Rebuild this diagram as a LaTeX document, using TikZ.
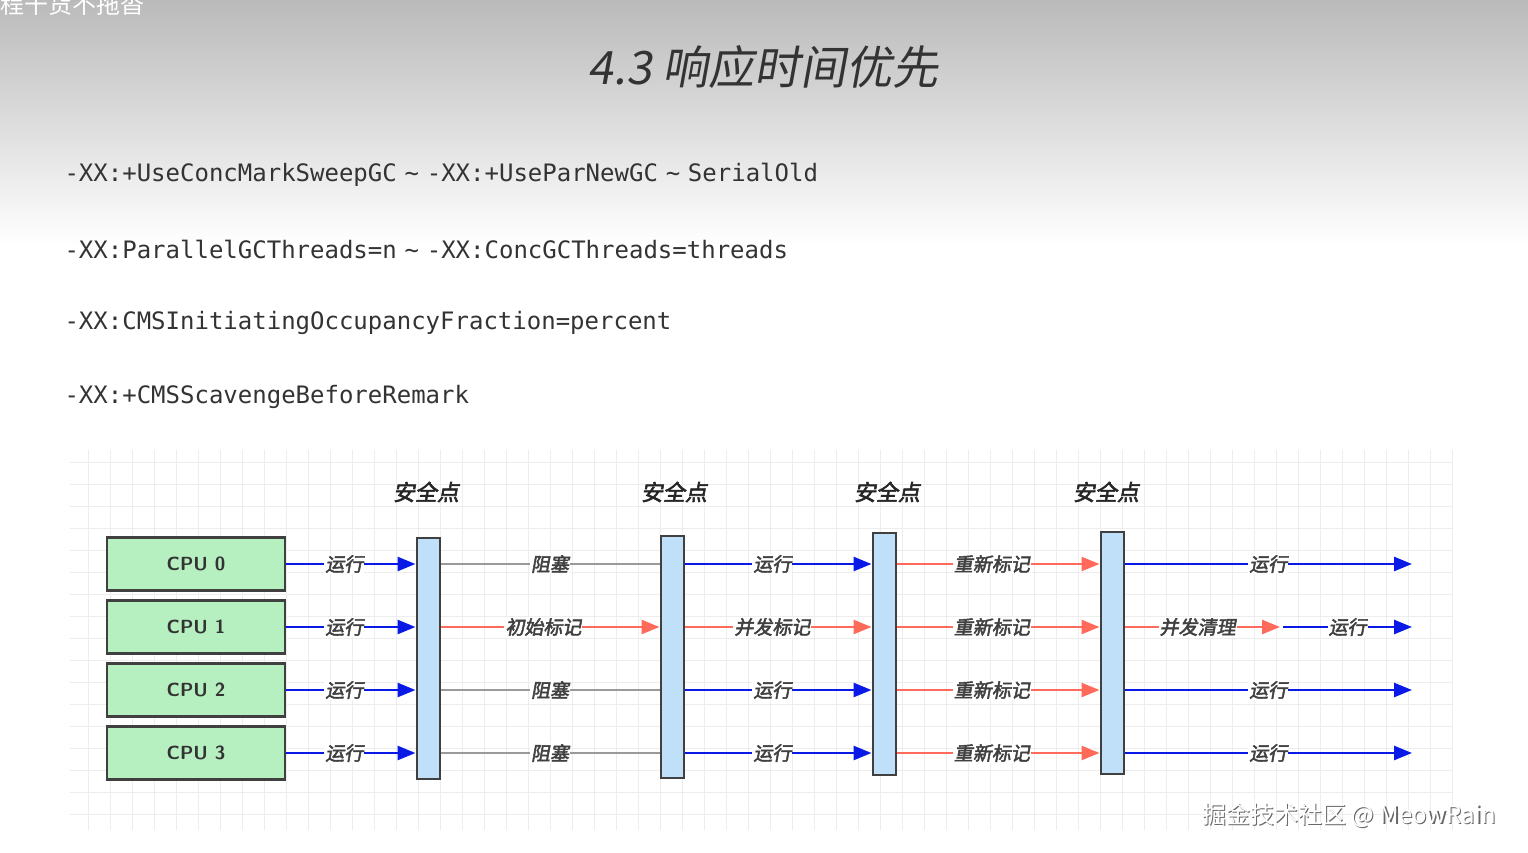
\documentclass[tikz,border=0pt]{standalone}
\usepackage{fontspec}
\setmonofont{DejaVu Sans Mono}
\newfontfamily\cjk[FakeSlant=0.18,FakeBold=2.5]{Noto Sans CJK SC}
\newfontfamily\cjkt[FakeSlant=0.18]{Noto Sans CJK SC}
\newfontfamily\cjkw{Noto Sans CJK SC}
\usetikzlibrary{arrows.meta}
\definecolor{bl}{HTML}{0A1AE6}
\definecolor{rd}{HTML}{FF6A5A}
\definecolor{gy}{HTML}{9A9A9A}
\definecolor{cpu}{HTML}{B6EFC0}
\definecolor{bar}{HTML}{BFE0F8}
\newcommand\tld{\makebox[30pt]{\textasciitilde}}
\tikzset{
 cpubox/.style={draw=black!75,line width=2.2pt,fill=cpu,minimum width=178pt,minimum height=53pt,font=\sffamily\bfseries\fontsize{19}{19}\selectfont,text=black!80},
 sbar/.style={draw=black!75,line width=2pt,fill=bar,minimum width=23pt,anchor=north,inner sep=0pt},
 lbl/.style={font=\cjk\fontsize{19}{19}\selectfont,text=black!75,fill=white,inner sep=1pt},
 sp/.style={font=\cjk\fontsize{22}{22}\selectfont,text=black!85},
 runarrow/.style={draw=bl,line width=2.6pt,-{Triangle[length=18pt,width=14pt]}},
 redarrow/.style={draw=rd,line width=2.4pt,-{Triangle[length=18pt,width=14pt]}},
 blk/.style={draw=gy,line width=2pt},
 code/.style={font=\ttfamily\fontsize{24}{24}\selectfont,text=black!80,anchor=west}
}
\begin{document}
\begin{tikzpicture}[x=1pt,y=-1pt]
\useasboundingbox (0,0) rectangle (1528,853);
\fill[white] (0,0) rectangle (1528,853);
\shade[top color=black!27,bottom color=white] (0,0) rectangle (1528,245);
% grid
\draw[black!7,line width=0.8pt,step=22pt] (70,450) grid (1452,830);
% top texts
\node[anchor=north west,font=\cjkw\fontsize{24}{24}\selectfont,text=white,inner sep=0pt] (corner) at (0,-7) {程干货不拖沓};
\node[font=\cjkt\fontsize{46}{46}\selectfont,text=black!80] (title) at (763,67) {4.3 响应时间优先};
\node[code] (c1) at (61,175) {-XX:+UseConcMarkSweepGC\tld-XX:+UseParNewGC\tld SerialOld};
\node[code] (c2) at (61,249) {-XX:ParallelGCThreads=n\tld-XX:ConcGCThreads=threads};
\node[code] (c3) at (61,323) {-XX:CMSInitiatingOccupancyFraction=percent};
\node[code] (c4) at (61,397) {-XX:+CMSScavengeBeforeRemark};
% cpus
\foreach \i/\y in {0/564,1/627,2/690,3/753}{
 \node[cpubox] (cpu\i) at (196,\y) {CPU \i};
}
% bars
\node[sbar,minimum height=241pt] (b1) at (428,537) {};
\node[sbar,minimum height=242pt] (b2) at (672,535) {};
\node[sbar,minimum height=242pt] (b3) at (884,532) {};
\node[sbar,minimum height=242pt] (b4) at (1112,531) {};
\node[sp] (s1) at (426,492) {安全点};
\node[sp] (s2) at (674,492) {安全点};
\node[sp] (s3) at (887,492) {安全点};
\node[sp] (s4) at (1106,492) {安全点};
% ends
\foreach \i in {0,1,2,3}{
 \coordinate (e\i) at (1412,0 |- cpu\i);
}
\coordinate (m1) at (1280,0 |- cpu1);
\coordinate (n1) at (1283,0 |- cpu1);
\foreach \i in {0,1,2,3}{
 \draw[runarrow] (cpu\i.east) -- node[lbl,pos=0.45]{运行} (cpu\i -| b1.west);
 \draw[redarrow] (cpu\i -| b3.east) -- node[lbl,pos=0.47]{重新标记} (cpu\i -| b4.west);
}
\foreach \i in {0,2,3}{
 \draw[blk] (cpu\i -| b1.east) -- node[lbl]{阻塞} (cpu\i -| b2.west);
 \draw[runarrow] (cpu\i -| b2.east) -- node[lbl,pos=0.47]{运行} (cpu\i -| b3.west);
 \draw[runarrow] (cpu\i -| b4.east) -- node[lbl,pos=0.5]{运行} (e\i);
}
\draw[redarrow] (cpu1 -| b1.east) -- node[lbl,pos=0.47]{初始标记} (cpu1 -| b2.west);
\draw[redarrow] (cpu1 -| b2.east) -- node[lbl,pos=0.47]{并发标记} (cpu1 -| b3.west);
\draw[redarrow] (cpu1 -| b4.east) -- node[lbl,pos=0.47]{并发清理} (m1);
\draw[runarrow] (n1) -- node[lbl]{运行} (e1);
% watermark
\node[font=\cjkw\fontsize{24}{24}\selectfont,text=black!60] (wm0) at (1350.5,816) {掘金技术社区 @ MeowRain};
\node[font=\cjkw\fontsize{24}{24}\selectfont,text=white] (wm) at (1349,815) {掘金技术社区 @ MeowRain};
\end{tikzpicture}
\end{document}
